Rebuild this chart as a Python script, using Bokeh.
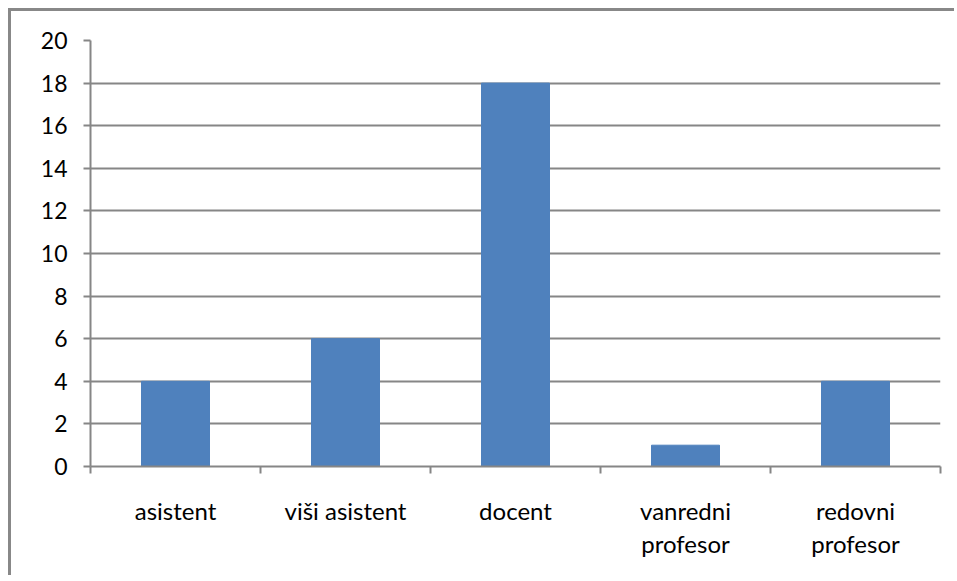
from bokeh.plotting import figure
from bokeh.models import FixedTicker, Range1d, ColumnDataSource
from bokeh.embed import file_html
from bokeh.resources import INLINE

categories = ["asistent", "viši asistent", "docent", "vanredni\nprofesor", "redovni\nprofesor"]
values = [4, 6, 18, 1, 4]
y_ticks = [0, 2, 4, 6, 8, 10, 12, 14, 16, 18, 20]

FONT = "Lato"
GRAY = "#868686"

centers = [i + 0.5 for i in range(len(categories))]
src = ColumnDataSource(dict(x=centers, top=values))

p = figure(width=946, height=567, output_backend="svg", toolbar_location=None,
           x_range=Range1d(0, len(categories)), y_range=Range1d(0, 20),
           min_border_left=79, min_border_top=29, min_border_right=17, min_border_bottom=112)
p.styles = {"border-left": "3px solid #888888", "border-top": "3px solid #888888",
            "margin-left": "8px", "margin-top": "8px"}
p.outline_line_color = None

p.vbar(x="x", top="top", width=0.4, bottom=0, source=src, color="#4F81BD")

# x axis
p.xaxis.ticker = FixedTicker(ticks=centers, minor_ticks=list(range(len(categories) + 1)))
p.xaxis.major_label_overrides = {c: lab for c, lab in zip(centers, categories)}
p.xaxis.major_tick_line_color = None
p.xaxis.minor_tick_line_color = GRAY
p.xaxis.minor_tick_line_width = 2
p.xaxis.minor_tick_out = 7
p.xaxis.minor_tick_in = 0
p.xaxis.axis_line_color = GRAY
p.xaxis.axis_line_width = 2
p.xaxis.major_label_standoff = 22
p.xaxis.major_label_text_font = FONT
p.xaxis.major_label_text_font_size = "24px"
p.xaxis.major_label_text_line_height = 1.15
p.xaxis.major_label_text_color = "black"
p.xgrid.grid_line_color = None

# y axis
p.yaxis.ticker = FixedTicker(ticks=y_ticks, minor_ticks=[])
p.yaxis.major_tick_line_color = GRAY
p.yaxis.major_tick_line_width = 2
p.yaxis.major_tick_out = 7
p.yaxis.major_tick_in = 0
p.yaxis.axis_line_color = GRAY
p.yaxis.axis_line_width = 2
p.yaxis.major_label_standoff = 16
p.yaxis.major_label_text_font = FONT
p.yaxis.major_label_text_font_size = "23px"
p.yaxis.major_label_text_color = "black"
p.ygrid.grid_line_color = GRAY
p.ygrid.grid_line_width = 2

open("out.html", "w").write(file_html(p, INLINE))
